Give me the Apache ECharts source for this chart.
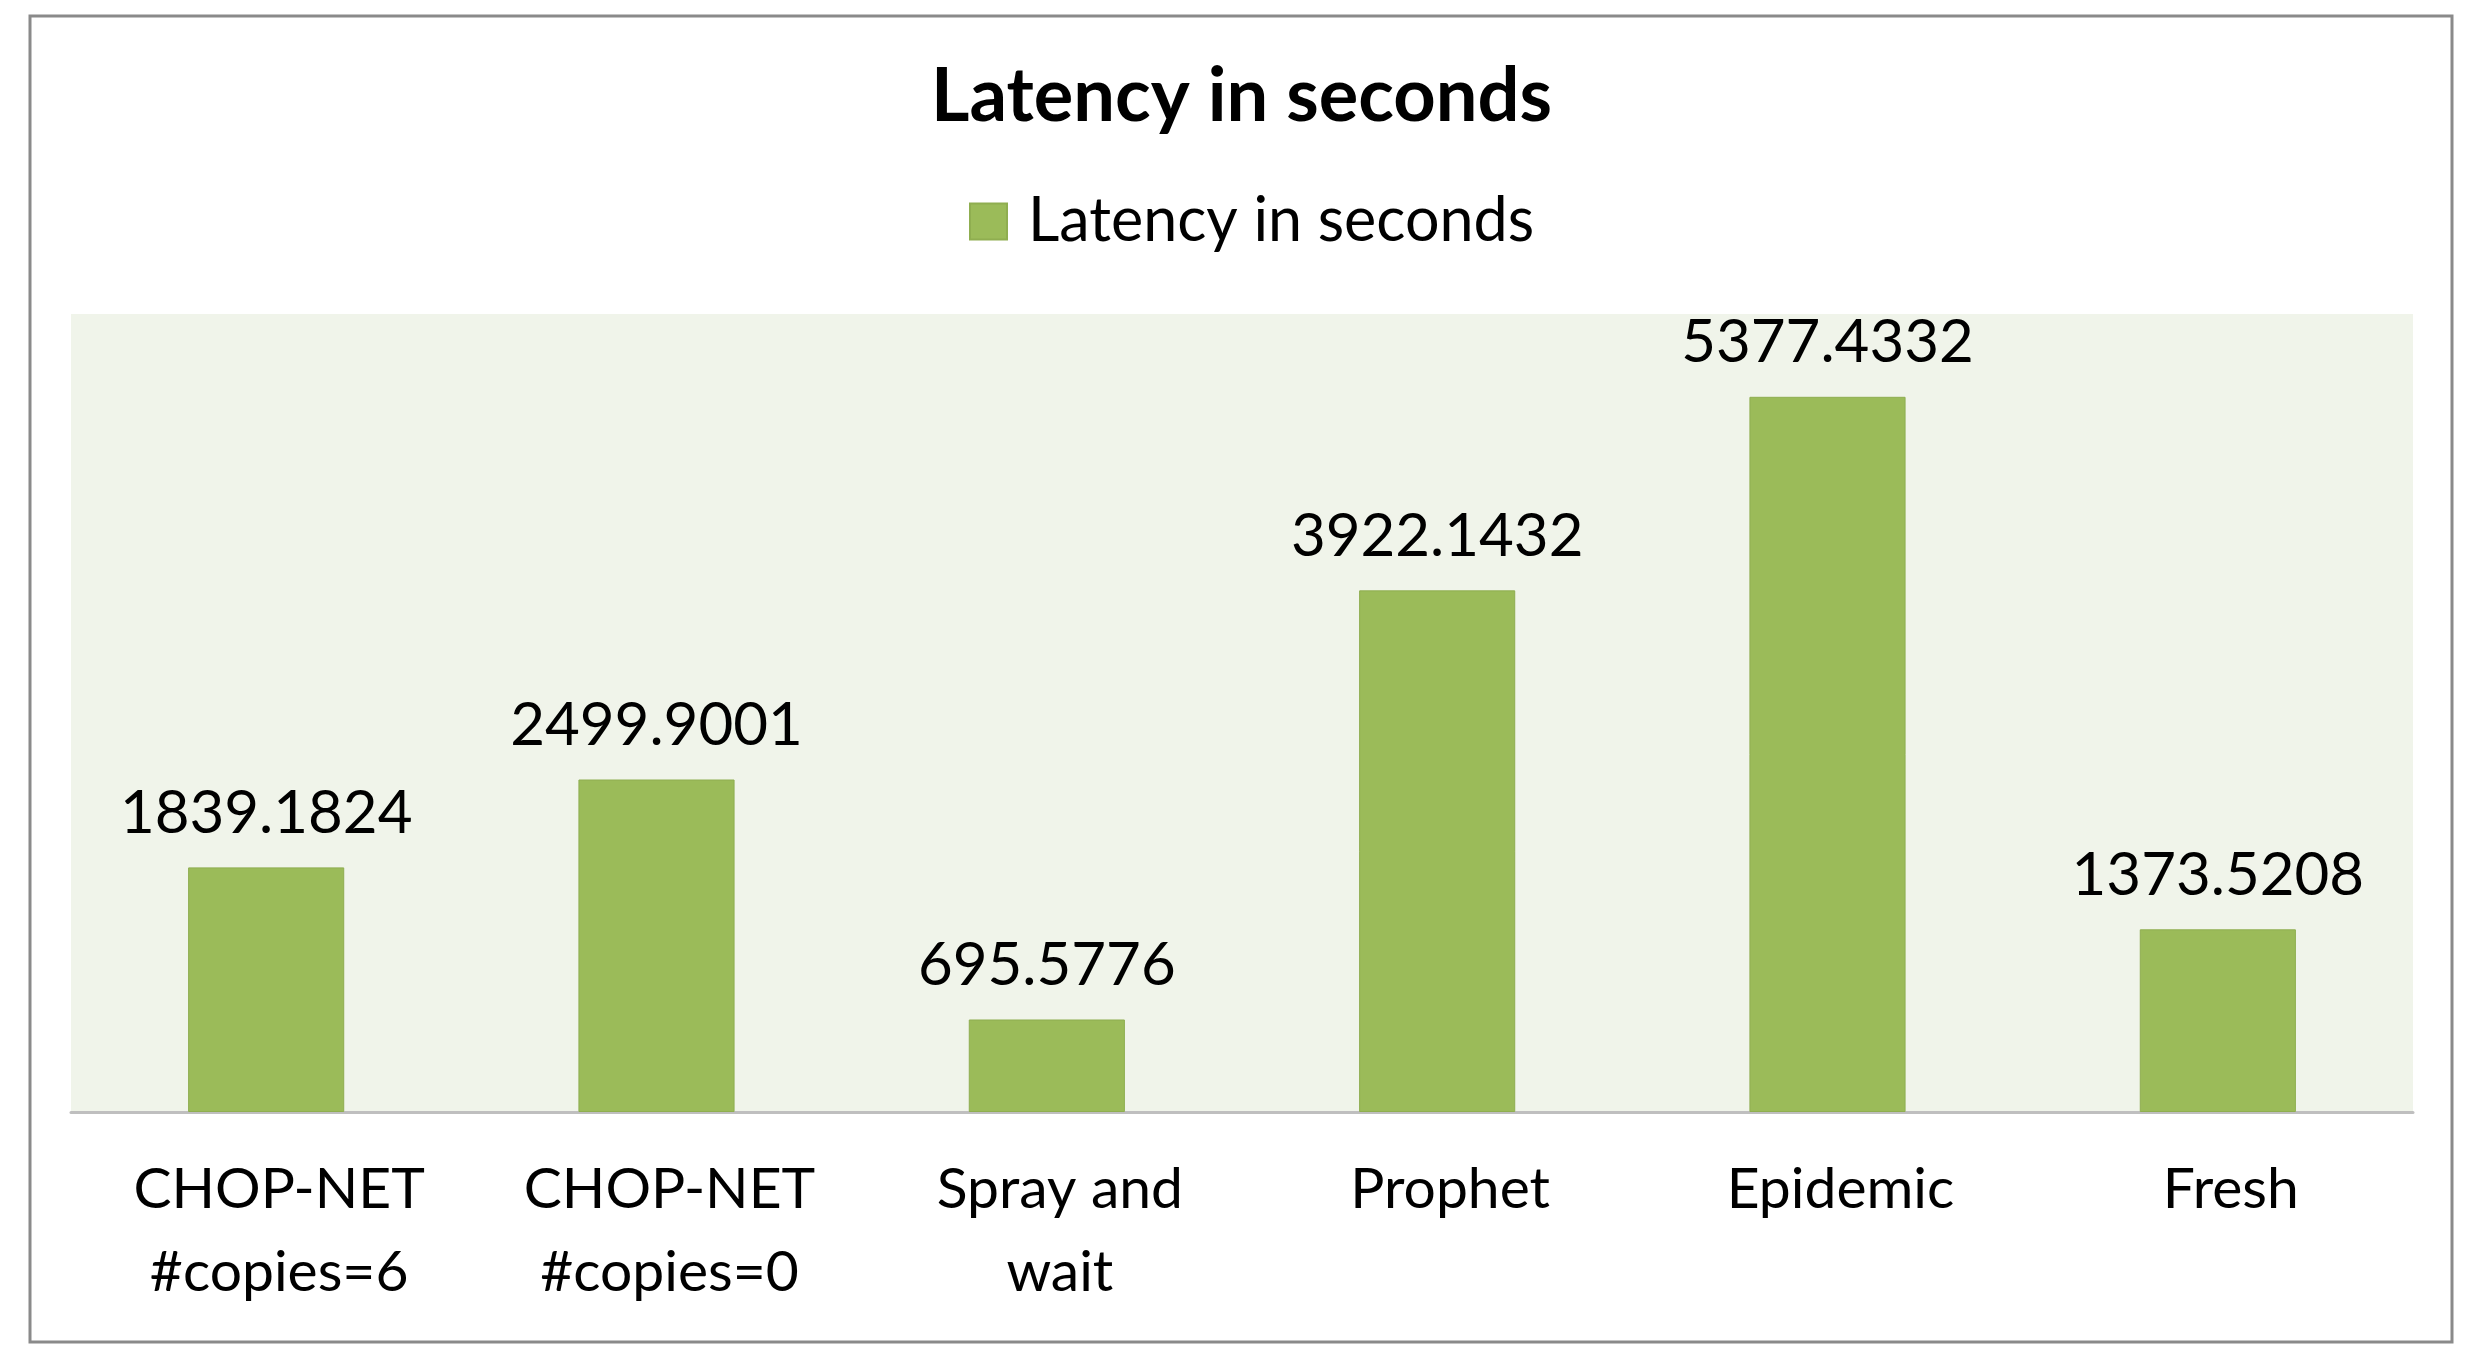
<!DOCTYPE html>
<html>
<head>
<meta charset="utf-8">
<script src="https://cdn.jsdelivr.net/npm/echarts@6/dist/echarts.min.js"></script>
<style>
html,body{margin:0;padding:0;background:#fff;}
#chart{width:2483px;height:1366px;}
</style>
</head>
<body>
<div id="chart"></div>
<script>
const categories = ['CHOP-NET\n#copies=6', 'CHOP-NET\n#copies=0', 'Spray and\nwait', 'Prophet', 'Epidemic', 'Fresh'];
const latency = [1839.1824, 2499.9001, 695.5776, 3922.1432, 5377.4332, 1373.5208];
const seriesName = 'Latency in seconds';
const titleText = 'Latency in seconds';

const chart = echarts.init(document.getElementById('chart'));
const FONT = 'Lato';
chart.setOption({
  backgroundColor: '#ffffff',
  animation: false,
  title: {
    text: titleText,
    left: 'center',
    top: 55,
    textStyle: {fontFamily: FONT, fontSize: 74, fontWeight: 'bold', color: '#000'}
  },
  legend: {
    data: [seriesName],
    top: 186,
    left: 964,
    itemWidth: 37,
    itemHeight: 36,
    icon: 'rect',
    textStyle: {fontFamily: FONT, fontSize: 61, color: '#000', padding: [0, 0, 0, 16]}
  },
  grid: {
    left: 71, right: 70, top: 314, bottom: 254,
    show: true, backgroundColor: '#F0F4EA', borderWidth: 0,
    containLabel: false
  },
  xAxis: {
    type: 'category',
    data: categories,
    axisLine: {show: true, lineStyle: {color: '#BFBFBF', width: 3}},
    axisTick: {show: false},
    axisLabel: {
      interval: 0, margin: 36,
      fontFamily: FONT, fontSize: 57, color: '#000', lineHeight: 83,
      padding: [0, 0, 0, 26]
    }
  },
  yAxis: {
    type: 'value', min: 0, max: 6000, interval: 1000,
    show: false,
    splitLine: {show: false}
  },
  graphic: [{
    type: 'rect', z: 100,
    shape: {x: 30, y: 16, width: 2422, height: 1326},
    style: {fill: null, stroke: '#8A8A8A', lineWidth: 3}
  }],
  series: [{
    name: seriesName,
    type: 'bar',
    data: latency,
    barCategoryGap: '60%',
    itemStyle: {color: '#9BBB59', borderColor: '#8FAE50', borderWidth: 1},
    label: {
      show: true, position: 'top', distance: 24,
      fontFamily: FONT, fontSize: 60, color: '#000',
      formatter: p => String(p.value)
    }
  }]
});
</script>
</body>
</html>
